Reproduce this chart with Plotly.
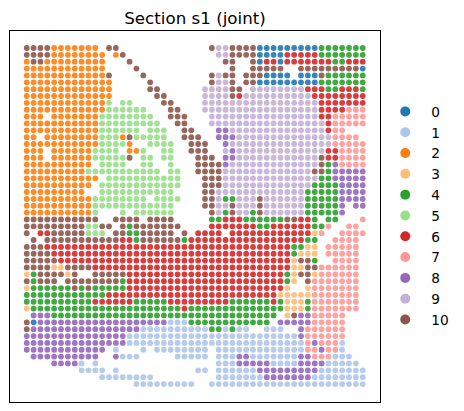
import plotly.graph_objects as go

clusters = ["0", "1", "2", "3", "4", "5", "6", "7", "8", "9", "10"]
colors = ["#1f77b4", "#aec7e8", "#ff7f0e", "#ffbb78", "#2ca02c", "#98df8a",
          "#d62728", "#ff9896", "#9467bd", "#c5b0d5", "#8c564b"]
symbols = "0123456789a"

# Cluster label of every spot on the 50x50 array; "." means no spot, "a" means 10
rows = [
    "aaaa2222222.aa.............a99aaaa0000000004444444",
    "aaaa22222222.2a.............99aaaa0000666664444444",
    "2aa222222222...a.............aa..a0660666666644666",
    "222222222222....a.............a..aaaaa..aaaaaaaaa0",
    "222222222222a....a.........a9aa.aaa0000.000a444444",
    "2222222222222.....a........a99a.aa0000000004444444",
    "2222222222222.....aa......9999aa.99999999666446664",
    "2222222222222......aa.....9999a6999999999966666666",
    "2222222222225.55....aa....999999999999999996666666",
    "222222222222555555...aa...999999999999999996666777",
    "222.222222255555555..aaa...99999999999999996677777",
    "22222222222555555555..aa...99999999999999999677777",
    "22222222222555555.555..aa...8899999999999999677...",
    "22.222222225552a55555..aaa..888999999999999997777.",
    "2222222222255552..5555..aaa..899999999999999977777",
    "222.2222225555.225..55..aaa..989999999999999667777",
    "222.22222255555a.55.55...aaa.88999999999999a667777",
    "2222222222.5555..55..5...aaaa89999999999999a487777",
    "22222222255555555555.55..aaaa9999999999999aa488888",
    "22222222222.55555555555...aaa999999999999994488888",
    "2222222222.555555555555...aaa999999999999944448888",
    "222222222..55555555555....aa9999999999999444448888",
    "222222222255555555.5555...aa944999a999999444448888",
    "2222222222555555555555....aa99a999a999999444448.88",
    "22222222225...5.555555.....a94a994a999999444448...",
    "aaaaaaaaaaa..aaaa.aaaa.....44666444444aa664.44...7",
    "aaaaaaaaa55aa.a4aaaaaaa....666666644666666447..77.",
    "a.66aaaaa555.aa44aaaaa.a.6666.66666666666637..7777",
    ".a.aaaaaaaaaaa664aaaaaa4" "66666666666666666" "44..7777.",
    "aaa" "666666666666666666666666666666666666" "4433.77777.",
    "aaaa" "66666666666666666666666666666666666" "4333.77777.",
    "aaaaa" "6666666666666666666666666666666666" "3aa4..7777.",
    "aaaa33aaaa" "66666666666666666666666666666" "33aa777777.",
    "34aaaa3a..aaaaa" "66666666666666666666666" "43aa3777777.",
    "a4aaa.aaaaaaaa4" "66666666666666666666666" "43.a7777777.",
    "3444444a4a44444" "66666666666666666666666" "3..37777777.",
    "444444444444" "6666666666666666666666666" "333337777777.",
    "4444444444666666444446666666664444446" "43334" "7777777.",
    "34444444444444444444444" "64" "4444444444444" "3334" "7777777.",
    ".888" "444444444444444444444444444444444" ".3a88" "77777...",
    "a0" "8888888888888888888" "1114" "44444444444" ".88888" "77777...",
    "a" "8888888888888888" "1111111111" "441411..111..8" "777777...",
    "888888888888888" "1111111111111111111111111" "8777777...",
    "888888888888888" "11111111111111111111111111" "787771...",
    "888888888888.1...1.11111111.1111111111111" "778771...",
    ".8888888888..8111.....11111.111881111111" "88777111..",
    "....88881.1.................111888881111888811111.",
    "........1111.1...........11.1111118888888881111111",
    "...........11111111.........11111118888888" "11111111",
    "................111111111..11111111111111111111111",
]
bad = [(j, len(r)) for j, r in enumerate(rows) if len(r) != 50]
assert not bad, bad

fig = go.Figure()
for label, sym, color in zip(clusters, symbols, colors):
    xs, ys = [], []
    for j, row in enumerate(rows):
        for i, ch in enumerate(row):
            if ch == sym:
                xs.append(i)
                ys.append(j)
    fig.add_trace(go.Scatter(x=xs, y=ys, mode="markers", showlegend=False,
                             marker=dict(size=5.8, color=color, opacity=0.9, line=dict(width=0)),
                             name=label))
    fig.add_trace(go.Scatter(x=[None], y=[None], mode="markers", name=label,
                             marker=dict(size=10, color=color, line=dict(width=0))))

axis = dict(showticklabels=False, ticks="", showgrid=False, zeroline=False,
            showline=True, mirror=True, linecolor="black", linewidth=1)
fig.update_layout(
    width=464, height=411, paper_bgcolor="white", plot_bgcolor="white",
    margin=dict(l=10, r=84, t=31, b=9, pad=0, autoexpand=False),
    font=dict(family="DejaVu Sans", color="black"),
    title=dict(text="Section s1 (joint)", x=195 / 464, xanchor="center", y=1 - 18 / 411, yanchor="middle",
               font=dict(size=16.7)),
    legend=dict(x=0.998, xanchor="left", y=1 - (96 - 31) / 371, yanchor="top", itemwidth=42,
                font=dict(size=13.7), bgcolor="rgba(0,0,0,0)", tracegroupgap=0),
    xaxis=dict(range=[-2.44, 51.52], **axis),
    yaxis=dict(range=[51.62, -2.48], **axis),
)
fig.write_html("out.html", post_script="document.body.style.margin='0';",
               config=dict(displayModeBar=False))
